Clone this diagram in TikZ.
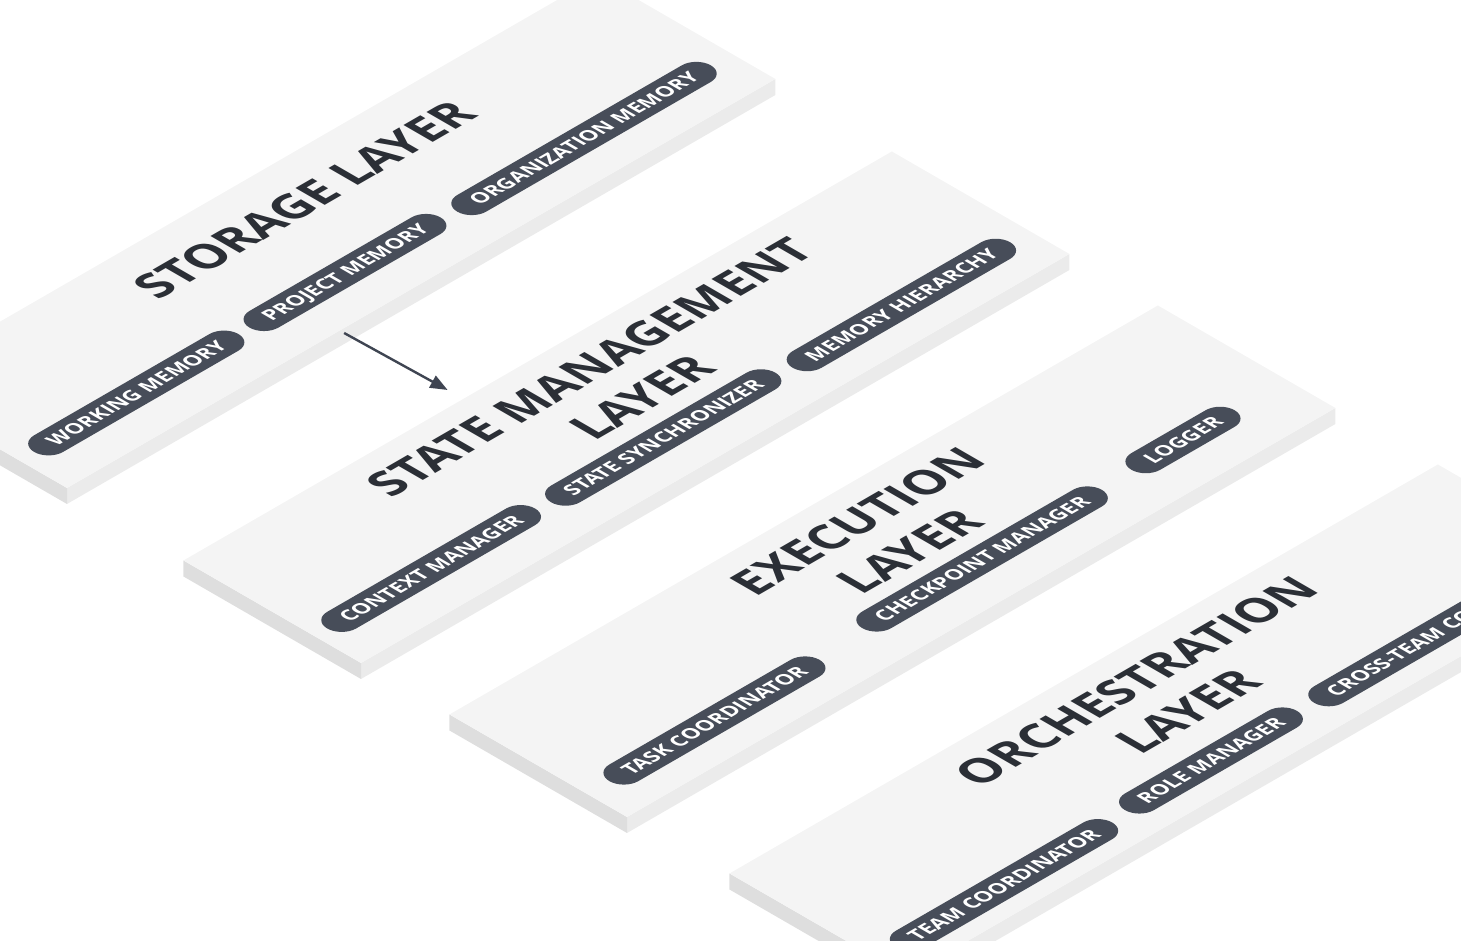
\documentclass[tikz,border=0pt]{standalone}
\usepackage{fontspec}
\setmainfont{Open Sans}
\usetikzlibrary{arrows.meta}
\definecolor{slabtop}{HTML}{F4F4F4}
\definecolor{slabfront}{HTML}{EBEBEB}
\definecolor{slabside}{HTML}{DEDEDE}
\definecolor{chipfill}{HTML}{474D59}
\definecolor{inkdark}{HTML}{2B2F36}
\definecolor{arrowink}{HTML}{3F4552}
\begin{document}
\begin{tikzpicture}[
		x=0.75pt, y=0.75pt,
		iso/.style={cm={0.866,0.5,-0.866,0.5,(0,0)}},
		layertitle/.style={transform shape, text=inkdark, align=center, font=\bfseries\fontsize{35.5}{45}\selectfont},
		chip/.style={transform shape, fill=chipfill, text=white, rounded corners=12.5pt, minimum height=25pt, inner xsep=14pt, inner ysep=0pt, text height=10.9pt, text depth=0pt, font=\bfseries\fontsize{15.3}{18}\selectfont},
		flow/.style={draw=arrowink, line width=1.8pt, -{Triangle[length=13pt,width=10pt]}}
	]
	\useasboundingbox (0,0) rectangle (1461,941);

	% storage layer
	\begin{scope}[shift={(67,453)}, iso]
		\fill[slabfront] (0,0) -- (818,0) -- (802,-16) -- (-16,-16) -- cycle;
		\fill[slabside] (0,0) -- (-16,-16) -- (-16,189) -- (0,205) -- cycle;
		\fill[slabtop] (0,0) rectangle (818,205);
		\node[layertitle] (storage) at (425,151) {STORAGE LAYER};
		\node[chip] (working) at (135,55) {WORKING MEMORY};
		\node[chip] (project) at (376,55) {PROJECT MEMORY};
		\node[chip] (organization) at (648,51) {ORGANIZATION MEMORY};
		\coordinate (storage-out) at (315,-5);
	\end{scope}

	% state management layer
	\begin{scope}[shift={(361,278)}, iso]
		\fill[slabfront] (0,0) -- (818,0) -- (802,-16) -- (-16,-16) -- cycle;
		\fill[slabside] (0,0) -- (-16,-16) -- (-16,189) -- (0,205) -- cycle;
		\fill[slabtop] (0,0) rectangle (818,205);
		\node[layertitle] (state) at (428,134) {STATE MANAGEMENT\\LAYER};
		\node[chip] (context) at (135,54) {CONTEXT MANAGER};
		\node[chip] (synchronizer) at (400,51) {STATE SYNCHRONIZER};
		\node[chip] (hierarchy) at (670,46) {MEMORY HIERARCHY};
		\coordinate (state-in) at (323,223);
	\end{scope}

	% execution layer
	\begin{scope}[shift={(627,124)}, iso]
		\fill[slabfront] (0,0) -- (818,0) -- (802,-16) -- (-16,-16) -- cycle;
		\fill[slabside] (0,0) -- (-16,-16) -- (-16,189) -- (0,205) -- cycle;
		\fill[slabtop] (0,0) rectangle (818,205);
		\node[layertitle] (execution) at (429,133) {EXECUTION\\LAYER};
		\node[chip] (task) at (147,46) {TASK COORDINATOR};
		\node[chip] (checkpoint) at (463,53) {CHECKPOINT MANAGER};
		\node[chip] (logger) at (698,56) {LOGGER};
	\end{scope}

	% orchestration layer
	\begin{scope}[shift={(907,-35)}, iso]
		\fill[slabfront] (0,0) -- (818,0) -- (802,-16) -- (-16,-16) -- cycle;
		\fill[slabside] (0,0) -- (-16,-16) -- (-16,189) -- (0,205) -- cycle;
		\fill[slabtop] (0,0) rectangle (818,205);
		\node[layertitle] (orchestration) at (427,133) {ORCHESTRATION\\LAYER};
		\node[chip] (team) at (147,35) {TEAM COORDINATOR};
		\node[chip] (role) at (391,40) {ROLE MANAGER};
		\node[chip, anchor=west] (crossteam) at (508,38) {CROSS-TEAM COORDINATION};
	\end{scope}

	\draw[flow] (storage-out) -- (state-in);
\end{tikzpicture}
\end{document}
